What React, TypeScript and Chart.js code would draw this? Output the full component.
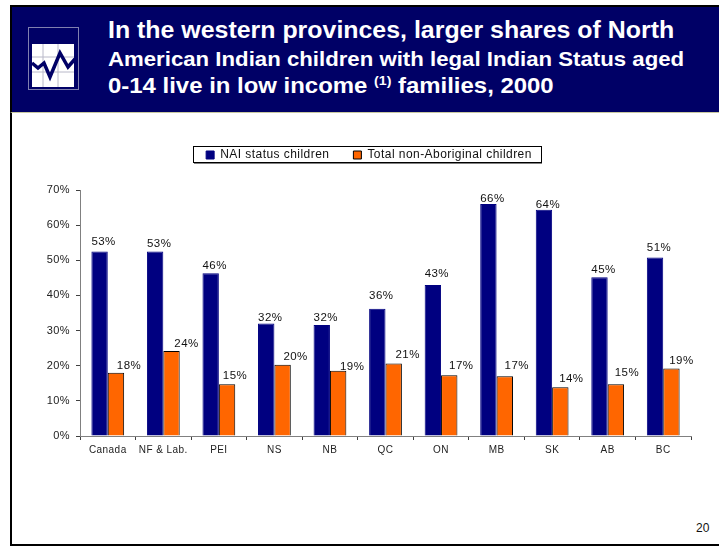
import React, { useEffect, useRef } from "react";
import { Chart, registerables } from "chart.js";

Chart.register(...registerables);

const categories = ["Canada", "NF & Lab.", "PEI", "NS", "NB", "QC", "ON", "MB", "SK", "AB", "BC"];
const nai = [52.5, 52.5, 46.3, 32, 31.6, 36.2, 43, 66, 64.4, 45.2, 50.8];
const nonAboriginal = [18, 24.2, 14.7, 20.3, 18.6, 20.6, 17.3, 17, 13.9, 14.7, 19.2];
const seriesNames = ["NAI status children", "Total non-Aboriginal children"];
const valueLabels = [
  ["53%", "53%", "46%", "32%", "32%", "36%", "43%", "66%", "64%", "45%", "51%"],
  ["18%", "24%", "15%", "20%", "19%", "21%", "17%", "17%", "14%", "15%", "19%"],
];

const FONT = "'Liberation Sans', Arial, sans-serif";

// Hand placement of the value labels relative to their default spot above each bar.
const labelNudgeX = [
  [0, 0, 0, 0, 0, 0, 0, 0, 0, 0, 0],
  [2, 4, -3, 2, 3, 3, 1, 1, 0, 0, -1],
];
const labelNudgeY = [
  [-3, -1, 0, 1, 0, -6, -4, 2, 2, 0, -2],
  [0, 0, -1, -1, 3, -2, -2, -3, -1, -4, -1],
];

const spacingPlugin = {
  id: "spacing",
  beforeLayout(chart: any) {
    chart.ctx.letterSpacing = "0.45px";
    const legend = chart.legend;
    if (legend && !legend.__patched) {
      legend.__patched = true;
      const fit = legend.fit.bind(legend);
      legend.fit = () => {
        fit();
        legend.height = 65;
      };
    }
  },
  afterLayout(chart: any) {
    chart.legend.left += 14;
    chart.legend.right += 14;
  },
  beforeDraw(chart: any) {
    chart.ctx.letterSpacing = "0.45px";
  },
};

const labelPlugin = {
  id: "valueLabels",
  afterDatasetsDraw(chart: any) {
    const ctx = chart.ctx;
    ctx.save();
    ctx.font = `11.5px ${FONT}`;
    ctx.fillStyle = "#111";
    ctx.textAlign = "center";
    ctx.textBaseline = "alphabetic";
    chart.data.datasets.forEach((_: any, d: number) => {
      chart.getDatasetMeta(d).data.forEach((bar: any, i: number) => {
        const dx = d === 0 ? 4 : 11;
        ctx.fillText(valueLabels[d][i], bar.x + dx + labelNudgeX[d][i], bar.y - 4 + labelNudgeY[d][i]);
      });
    });
    ctx.restore();
  },
};

const legendBoxPlugin = {
  id: "legendBox",
  afterDraw(chart: any) {
    const boxes = chart.legend?.legendHitBoxes;
    if (!boxes?.length) return;
    const ctx = chart.ctx;
    const left = Math.round(Math.min(...boxes.map((b: any) => b.left)) - 13);
    const right = Math.round(Math.max(...boxes.map((b: any) => b.left + b.width)) + 9);
    const top = Math.round(boxes[0].top - 3);
    ctx.save();
    ctx.strokeStyle = "#000";
    ctx.lineWidth = 1;
    ctx.strokeRect(left + 0.5, top + 0.5, right - left, 16);
    ctx.strokeStyle = "#808080";
    ctx.beginPath();
    ctx.moveTo(left + 1, top + 17.5);
    ctx.lineTo(right + 1, top + 17.5);
    ctx.stroke();
    ctx.restore();
  },
};

export default function App() {
  const ref = useRef<HTMLCanvasElement>(null);

  useEffect(() => {
    const chart = new Chart(ref.current!, {
      type: "bar",
      data: {
        labels: categories,
        datasets: [
          {
            label: seriesNames[0],
            data: nai,
            backgroundColor: "#000080",
            borderColor: "#000080",
            borderWidth: 1,
          },
          {
            label: seriesNames[1],
            data: nonAboriginal,
            backgroundColor: "#ff6600",
            borderColor: "#000",
            borderWidth: 1,
          },
        ],
      },
      options: {
        animation: false,
        responsive: false,
        layout: { padding: { top: 5, right: 28, left: 0, bottom: 0 } },
        datasets: { bar: { categoryPercentage: 0.59, barPercentage: 1 } },
        plugins: {
          tooltip: { enabled: false },
          legend: {
            position: "top",
            labels: {
              boxWidth: 8,
              boxHeight: 8,
              padding: 24,
              color: "#111",
              font: { family: FONT, size: 12 },
            },
          },
        },
        scales: {
          x: {
            afterFit: (s: any) => {
              s.height = 30;
            },
            border: { color: "#808080" },
            grid: { drawOnChartArea: false, tickLength: 4, color: "#404040" },
            ticks: {
              color: "#222",
              font: { family: FONT, size: 10 },
              maxRotation: 0,
              autoSkip: false,
              padding: 4,
            },
          },
          y: {
            min: 0,
            max: 70,
            afterFit: (s: any) => {
              s.width = 61;
            },
            border: { color: "#808080" },
            grid: { drawOnChartArea: false, tickLength: 4, color: "#404040" },
            ticks: {
              stepSize: 10,
              color: "#222",
              font: { family: FONT, size: 11 },
              padding: 6,
              callback: (v: any) => `${v}%`,
            },
          },
        },
      },
      plugins: [spacingPlugin, labelPlugin, legendBoxPlugin],
    } as any);
    return () => chart.destroy();
  }, []);

  const titleLine = (top: number, size: number, stretch: number): React.CSSProperties => ({
    position: "absolute",
    left: 108,
    top,
    fontSize: size,
    lineHeight: "28px",
    fontWeight: "bold",
    color: "#fff",
    whiteSpace: "nowrap",
    transform: `scaleX(${stretch})`,
    transformOrigin: "left center",
  });

  return (
    <div
      style={{
        position: "fixed",
        left: 0,
        top: 0,
        width: 719,
        height: 546,
        overflow: "hidden",
        background: "#fff",
        fontFamily: FONT,
      }}
    >
      <div style={{ position: "absolute", left: 10, top: 5, width: 2, height: 540, background: "#000" }} />
      <div style={{ position: "absolute", left: 10, top: 544, width: 709, height: 2, background: "#000" }} />
      <div
        style={{
          position: "absolute",
          left: 10,
          top: 5,
          width: 709,
          height: 108,
          background: "#000066",
          borderTop: "2px solid #000",
          borderLeft: "2px solid #000",
          borderBottom: "1px solid #c8c8a0",
          boxSizing: "border-box",
        }}
      />
      <svg style={{ position: "absolute", left: 28, top: 27 }} width={52} height={64}>
        <rect x={0.5} y={0.5} width={50} height={62} fill="none" stroke="#8080b0" />
        <rect x={4} y={17} width={42} height={43} fill="#fff" />
        <path d="M15 17V60M30 17V60M4 30H46M4 45H46" stroke="#b8b8c8" />
        <polyline
          points="4,36 10,41 16,36 22,50 32,26 40,40 47,32"
          fill="none"
          stroke="#000066"
          strokeWidth={3.5}
        />
      </svg>
      <div style={titleLine(16, 23, 1.083)}>In the western provinces, larger shares of North</div>
      <div style={titleLine(45, 20.5, 1.083)}>American Indian children with legal Indian Status aged</div>
      <div style={titleLine(72, 22, 1.088)}>
        0-14 live in low income <sup style={{ fontSize: 13, lineHeight: 0 }}>(1)</sup> families, 2000
      </div>
      <canvas
        ref={ref}
        width={700}
        height={346}
        style={{ position: "absolute", left: 19, top: 120, width: 700, height: 346 }}
      />
      <div style={{ position: "absolute", left: 696, top: 521, fontSize: 12, color: "#111" }}>20</div>
    </div>
  );
}
